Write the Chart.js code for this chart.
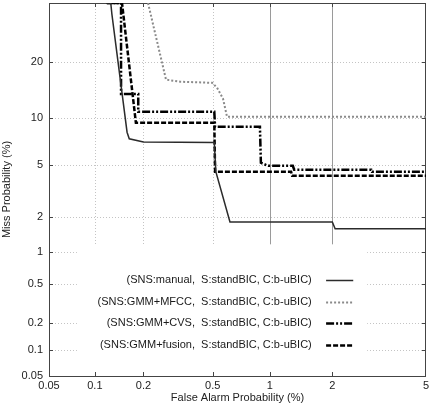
<!DOCTYPE html>
<html>
<head>
<meta charset="utf-8">
<script src="https://cdn.jsdelivr.net/npm/chart.js@4/dist/chart.umd.min.js"></script>
<style>
  html, body { margin: 0; padding: 0; background: #fff; }
  #wrap { width: 431px; height: 405px; }
</style>
</head>
<body>
<div id="wrap"><canvas id="c" width="431" height="405"></canvas></div>
<script>
// ---- data (percent) ----
const xTickLabels = ["0.05", "0.1", "0.2", "0.5", "1", "2", "5"];
const xTicks = [0.05, 0.1, 0.2, 0.5, 1, 2, 5];
const yTickLabels = ["0.05", "0.1", "0.2", "0.5", "1", "2", "5", "10", "20"];
const yTicks = [0.05, 0.1, 0.2, 0.5, 1, 2, 5, 10, 20];
const xMin = 0.05, xMax = 5, yMin = 0.05, yMax = 35;

const seriesLabels = [
  "(SNS:manual,  S:standBIC, C:b-uBIC)",
  "(SNS:GMM+MFCC,  S:standBIC, C:b-uBIC)",
  "(SNS:GMM+CVS,  S:standBIC, C:b-uBIC)",
  "(SNS:GMM+fusion,  S:standBIC, C:b-uBIC)"
];

const faManual   = [0.118, 0.126, 0.128, 0.159, 0.164, 0.2, 0.51, 0.52, 0.62, 2.0, 2.06, 5.0];
const missManual = [35, 35, 31.9, 8.2, 7.45, 7.1, 7.05, 4.46, 1.83, 1.83, 1.6, 1.6];

const faMfcc   = [0.213, 0.272, 0.328, 0.496, 0.528, 0.569, 0.598, 5.0];
const missMfcc = [35, 16.3, 15.9, 15.7, 14.8, 12.9, 10.17, 10.17];

const faCvs   = [0.119, 0.146, 0.146, 0.186, 0.186, 0.51, 0.515, 0.89, 0.90, 0.98, 1.30, 1.32, 2.98, 3.0, 5.0];
const missCvs = [35, 35, 13.7, 13.7, 10.9, 10.9, 8.85, 8.85, 5.16, 4.91, 4.91, 4.61, 4.61, 4.46, 4.46];

const faFusion   = [0.119, 0.148, 0.180, 0.51, 0.515, 1.275, 1.29, 5.0];
const missFusion = [35, 35, 9.37, 9.37, 4.46, 4.46, 4.17, 4.17];

// ---- probit (inverse normal CDF, Acklam) ----
function probit(p) {
  const a=[-3.969683028665376e+01,2.209460984245205e+02,-2.759285104469687e+02,1.383577518672690e+02,-3.066479806614716e+01,2.506628277459239e+00];
  const b=[-5.447609879822406e+01,1.615858368580409e+02,-1.556989798598866e+02,6.680131188771972e+01,-1.328068155288572e+01];
  const c=[-7.784894002430293e-03,-3.223964580411365e-01,-2.400758277161838e+00,-2.549671110228570e+00,4.374664141464968e+00,2.938163982698783e+00];
  const d=[7.784695709041462e-03,3.224671290700398e-01,2.445134137142996e+00,3.754408661907416e+00];
  const pl = 0.02425, ph = 1 - pl;
  let q, r;
  if (p < pl) { q = Math.sqrt(-2*Math.log(p)); return (((((c[0]*q+c[1])*q+c[2])*q+c[3])*q+c[4])*q+c[5])/((((d[0]*q+d[1])*q+d[2])*q+d[3])*q+1); }
  if (p <= ph) { q = p-0.5; r = q*q; return (((((a[0]*r+a[1])*r+a[2])*r+a[3])*r+a[4])*r+a[5])*q/(((((b[0]*r+b[1])*r+b[2])*r+b[3])*r+b[4])*r+1); }
  q = Math.sqrt(-2*Math.log(1-p)); return -(((((c[0]*q+c[1])*q+c[2])*q+c[3])*q+c[4])*q+c[5])/((((d[0]*q+d[1])*q+d[2])*q+d[3])*q+1);
}
const P = v => probit(v / 100);
const pts = (fa, miss) => fa.map((f, i) => ({ x: P(f), y: P(miss[i]) }));

const FONT = "'Liberation Sans', Arial, sans-serif";
const styles = [
  { color: '#2b2b2b', width: 1.5, dash: [] },
  { color: '#8a8a8a', width: 2,   dash: [2, 2] },
  { color: '#000000', width: 2.5, dash: [8, 2, 2, 2, 2, 2] },
  { color: '#000000', width: 2.5, dash: [5, 2] }
];
const seriesData = [pts(faManual, missManual), pts(faMfcc, missMfcc), pts(faCvs, missCvs), pts(faFusion, missFusion)];

const datasets = seriesData.map((d, i) => ({
  label: seriesLabels[i],
  data: d,
  borderColor: styles[i].color,
  borderWidth: styles[i].width,
  borderDash: styles[i].dash,
  pointRadius: 0,
  tension: 0,
  fill: false,
  borderJoinStyle: 'miter'
}));

const detPlugin = {
  id: 'det',
  beforeDatasetsDraw(chart) {
    const { ctx, chartArea: a, scales: { x, y } } = chart;
    ctx.save();
    ctx.lineWidth = 1;
    xTicks.forEach(v => {
      if (v <= xMin || v >= xMax) return;
      const px = Math.round(x.getPixelForValue(P(v))) + 0.5;
      if (v >= 1) { ctx.strokeStyle = '#9a9a9a'; ctx.setLineDash([]); }
      else { ctx.strokeStyle = '#c4c4c4'; ctx.setLineDash([1, 2]); }
      ctx.beginPath(); ctx.moveTo(px, a.top); ctx.lineTo(px, a.bottom); ctx.stroke();
    });
    ctx.strokeStyle = '#c4c4c4'; ctx.setLineDash([1, 2]);
    yTicks.forEach(v => {
      if (v <= yMin || v >= yMax) return;
      const py = Math.round(y.getPixelForValue(P(v))) + 0.5;
      ctx.beginPath(); ctx.moveTo(a.left, py); ctx.lineTo(a.right, py); ctx.stroke();
    });
    ctx.setLineDash([]);
    const w = a.right - a.left, h = a.bottom - a.top;
    ctx.fillStyle = '#fff';
    ctx.fillRect(a.left + 0.074 * w, a.top + 0.647 * h, 0.77 * w, a.bottom - (a.top + 0.647 * h) - 1);
    ctx.strokeStyle = '#444'; ctx.lineWidth = 1;
    ctx.strokeRect(Math.round(a.left) + 0.5, Math.round(a.top) + 0.5, Math.round(w) - 1, Math.round(h));
    const tl = 4;
    ctx.beginPath();
    xTicks.forEach(v => {
      if (v <= xMin || v >= xMax) return;
      const px = Math.round(x.getPixelForValue(P(v))) + 0.5;
      ctx.moveTo(px, a.bottom); ctx.lineTo(px, a.bottom - tl);
      ctx.moveTo(px, a.top); ctx.lineTo(px, a.top + tl);
    });
    yTicks.forEach(v => {
      if (v <= yMin || v >= yMax) return;
      const py = Math.round(y.getPixelForValue(P(v))) + 0.5;
      ctx.moveTo(a.left, py); ctx.lineTo(a.left + tl, py);
      ctx.moveTo(a.right, py); ctx.lineTo(a.right - tl, py);
    });
    ctx.stroke();
    ctx.restore();
  },
  afterDatasetsDraw(chart) {
    const { ctx, chartArea: a } = chart;
    const w = a.right - a.left;
    ctx.save();
    ctx.font = "11px " + FONT;
    ctx.fillStyle = '#1a1a1a';
    ctx.textAlign = 'right';
    ctx.textBaseline = 'middle';
    const textRight = a.left + 0.697 * w;
    const s0 = a.left + 0.735 * w, s1 = a.left + 0.807 * w;
    const rows = [96, 74, 53, 31];
    chart.data.datasets.forEach((ds, i) => {
      const yy = a.bottom - rows[i];
      ctx.fillText(ds.label, textRight, yy);
      ctx.strokeStyle = ds.borderColor;
      ctx.lineWidth = ds.borderWidth;
      ctx.setLineDash(ds.borderDash);
      ctx.beginPath(); ctx.moveTo(s0, yy + 0.5); ctx.lineTo(s1, yy + 0.5); ctx.stroke();
    });
    ctx.restore();
  }
};

new Chart(document.getElementById('c'), {
  type: 'line',
  data: { datasets },
  options: {
    responsive: false,
    animation: false,
    layout: { padding: { top: 3, right: 5, left: 0, bottom: 0 } },
    plugins: { legend: { display: false }, tooltip: { enabled: false } },
    scales: {
      x: {
        type: 'linear',
        min: P(xMin), max: P(xMax),
        afterFit(s) { s.height = 29; s.paddingLeft = 0; s.paddingRight = 0; },
        afterBuildTicks(s) { s.ticks = xTicks.map(v => ({ value: P(v) })); },
        grid: { display: false, drawTicks: false, tickLength: 0 },
        border: { display: false },
        ticks: {
          autoSkip: false, maxRotation: 0, padding: 3,
          color: '#222', font: { family: FONT, size: 11 },
          callback: (val, idx) => xTickLabels[idx]
        },
        title: { display: true, text: 'False Alarm Probability (%)', color: '#222',
                 font: { family: FONT, size: 11 }, padding: { top: 0, bottom: 0 } }
      },
      y: {
        type: 'linear',
        min: P(yMin), max: P(yMax),
        afterFit(s) { s.width = 49; s.paddingTop = 0; s.paddingBottom = 0; },
        afterBuildTicks(s) { s.ticks = yTicks.map(v => ({ value: P(v) })); },
        grid: { display: false, drawTicks: false, tickLength: 0 },
        border: { display: false },
        ticks: {
          autoSkip: false, padding: 6,
          color: '#222', font: { family: FONT, size: 11 },
          callback: (val, idx) => yTickLabels[idx]
        },
        title: { display: true, text: 'Miss Probability (%)', color: '#222',
                 font: { family: FONT, size: 11 }, padding: { top: 0, bottom: 0 } }
      }
    }
  },
  plugins: [detPlugin]
});
</script>
</body>
</html>
